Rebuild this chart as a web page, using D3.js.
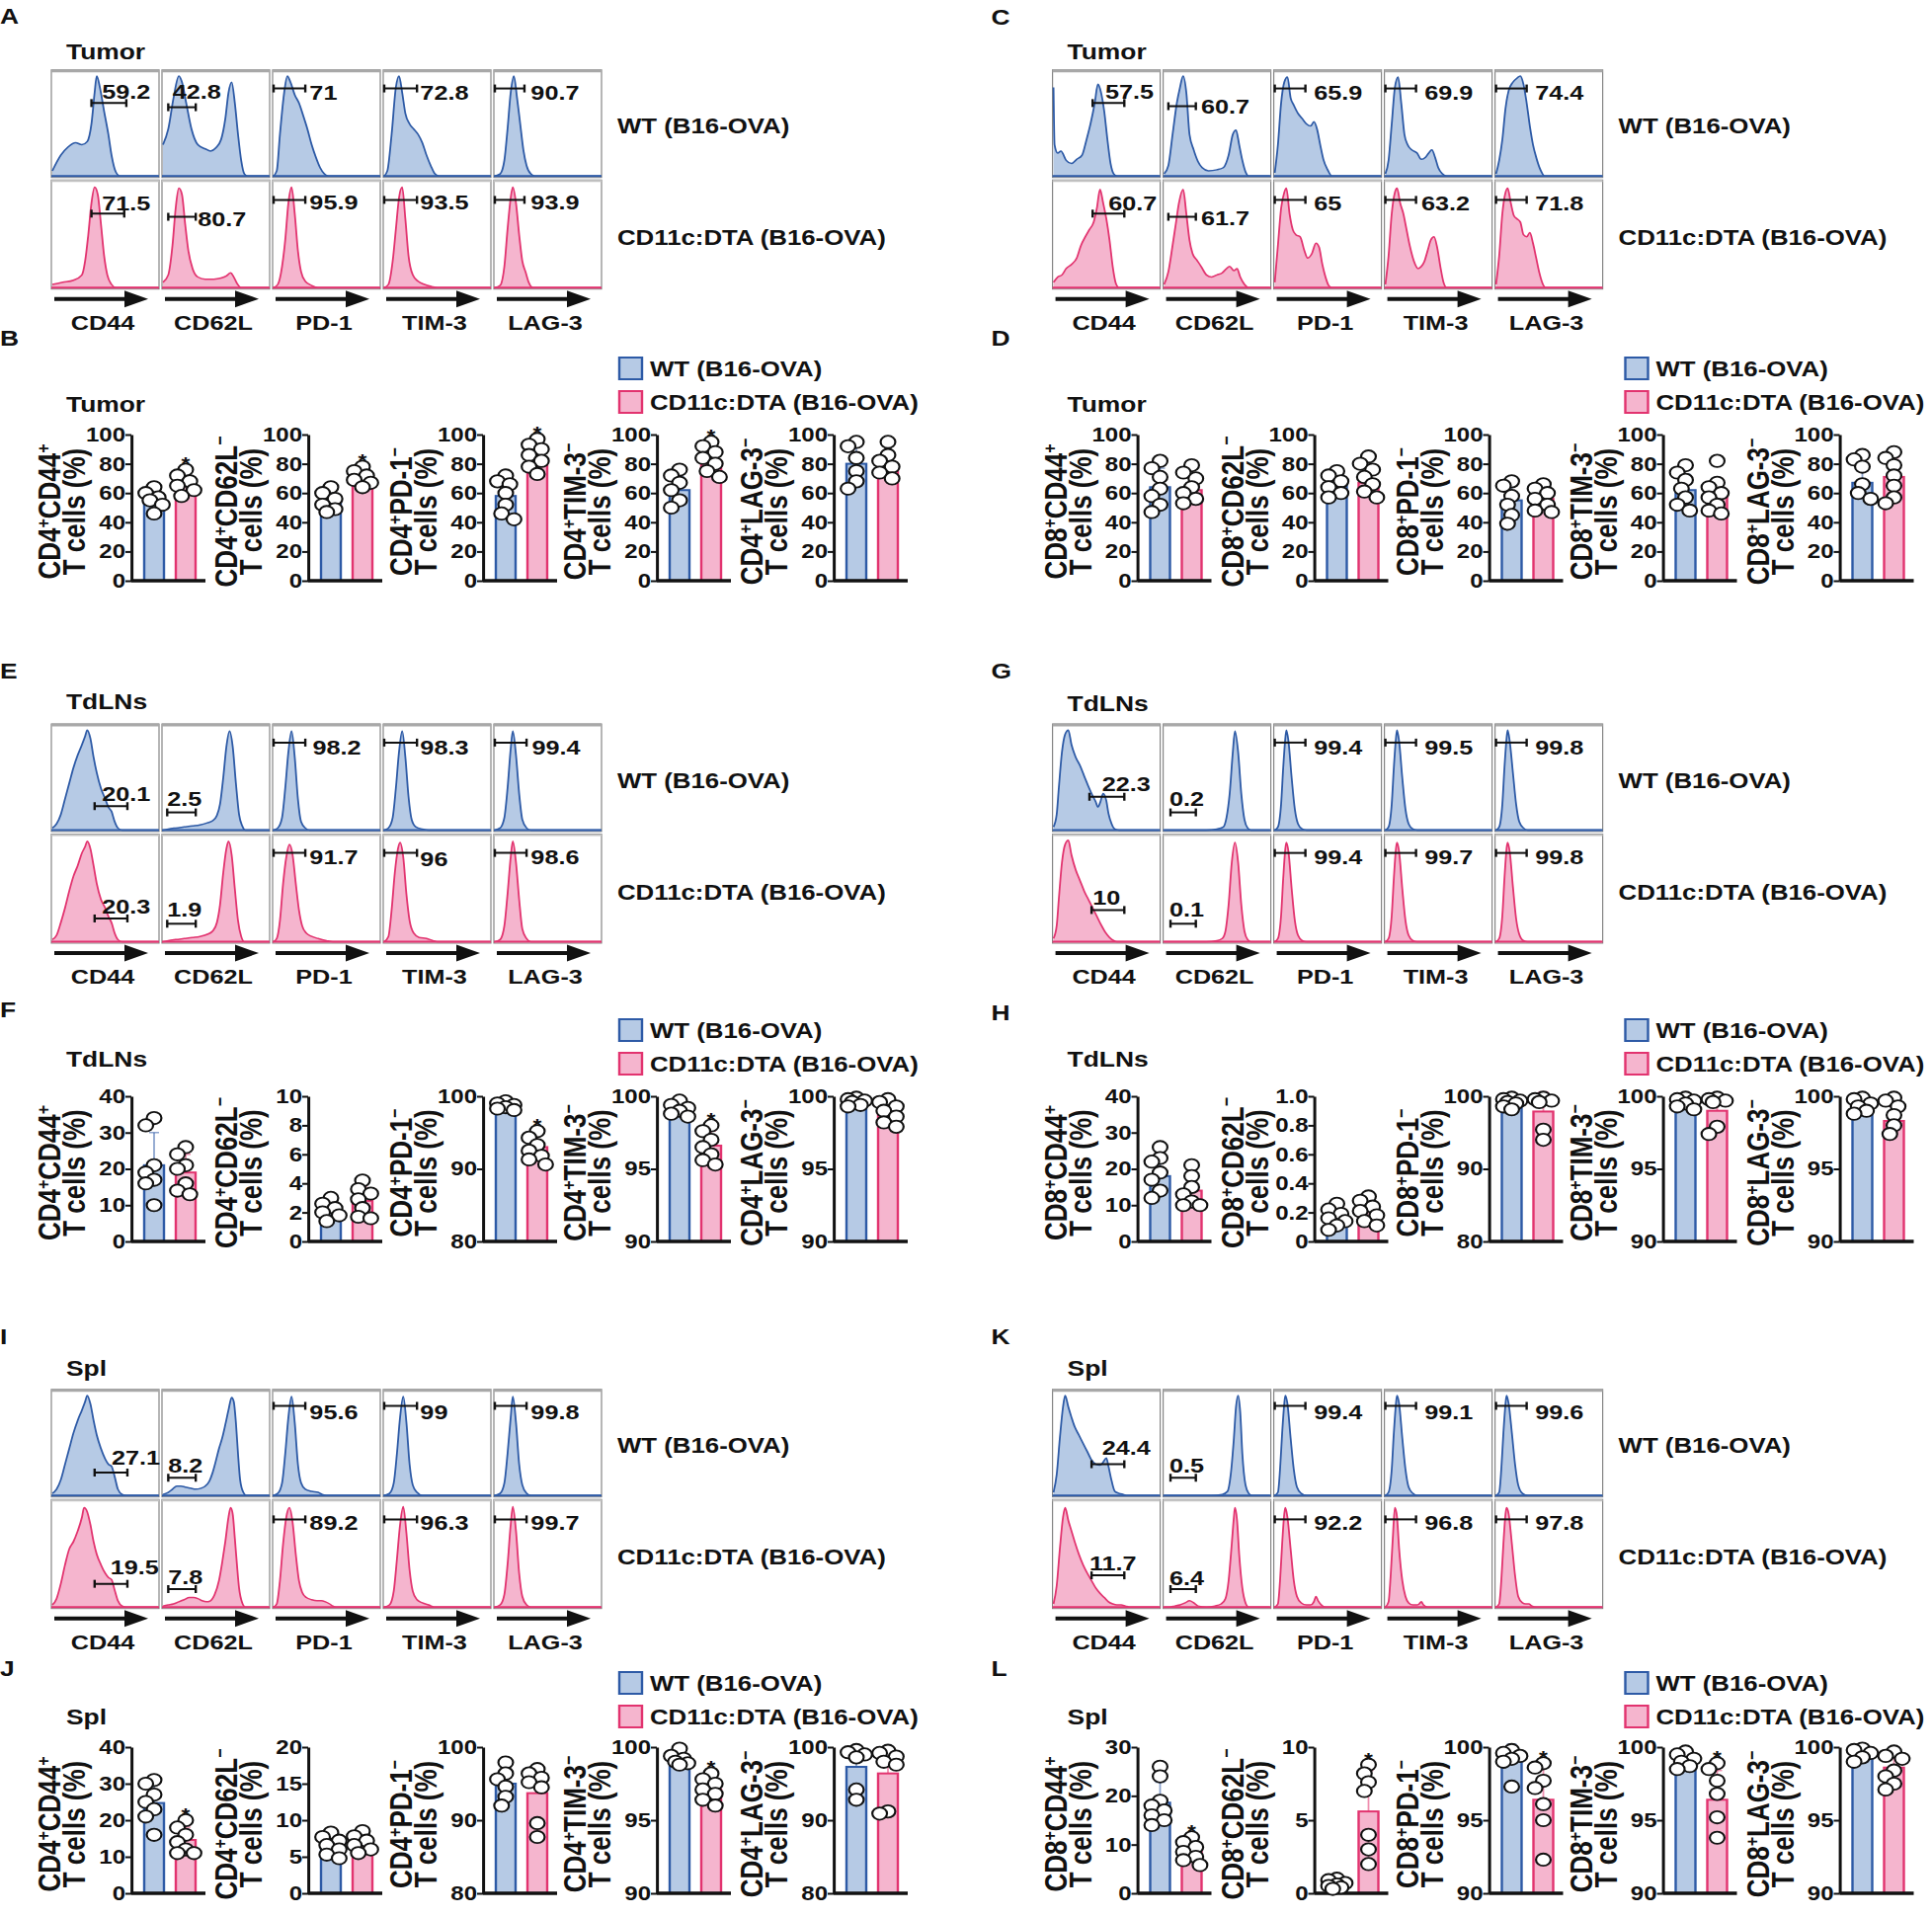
<!DOCTYPE html>
<html>
<head>
<meta charset="utf-8">
<script src="https://cdn.jsdelivr.net/npm/d3@7"></script>
<style>
  body { margin: 0; background: #fff; }
  text { font-family: "Liberation Sans", Arial, Helvetica, sans-serif; font-weight: bold; fill: #111; }
</style>
</head>
<body>
<div id="wrapper"></div>
<script>
// ---- categories ----
const markers = ["CD44", "CD62L", "PD-1", "TIM-3", "LAG-3"];
const groupNames = ["WT (B16-OVA)", "CD11c:DTA (B16-OVA)"];
const titleSigns = ["+", "\u2212", "\u2212", "\u2212", "\u2212"];

// ---- histogram curves: [fluorescence %, count % of max] ----
const histA_wt = [
  [[0,5],[8,20],[15,28],[22,32],[28,30],[33,33],[37,50],[40,80],[42,96],[45,85],[49,62],[53,40],[56,20],[60,4],[64,0],[100,0]],
  [[0,30],[5,45],[10,75],[15,96],[18,90],[22,70],[27,45],[33,30],[40,26],[45,24],[50,27],[55,35],[59,55],[62,80],[65,90],[68,70],[71,40],[74,15],[77,2],[80,0],[100,0]],
  [[0,0],[3,5],[6,40],[10,80],[13,96],[16,90],[20,78],[24,70],[28,58],[32,45],[36,30],[40,18],[44,8],[48,2],[52,0],[100,0]],
  [[0,0],[3,5],[7,40],[11,85],[14,96],[17,80],[20,60],[24,50],[28,45],[32,40],[36,32],[40,20],[44,10],[48,2],[52,0],[100,0]],
  [[0,0],[5,2],[9,15],[12,45],[15,80],[18,96],[21,75],[24,50],[27,25],[30,10],[34,2],[38,0],[100,0]]
];
const histA_dta = [
  [[0,3],[10,5],[20,7],[28,12],[31,25],[34,50],[37,80],[40,95],[43,88],[46,60],[49,30],[52,12],[56,3],[60,0],[100,0]],
  [[0,5],[5,12],[9,40],[12,75],[15,94],[18,88],[21,60],[24,35],[28,18],[33,10],[40,8],[48,8],[55,9],[60,11],[64,14],[67,10],[70,4],[74,0],[100,0]],
  [[0,0],[4,3],[8,20],[11,45],[14,80],[17,95],[20,70],[23,35],[26,15],[30,6],[36,2],[42,0],[100,0]],
  [[0,0],[4,3],[8,25],[11,55],[14,85],[17,95],[20,65],[23,30],[27,12],[32,6],[38,3],[45,1],[50,0],[100,0]],
  [[0,0],[5,2],[9,20],[12,55],[15,85],[17,95],[20,80],[23,50],[26,25],[29,15],[32,5],[36,0],[100,0]]
];
const histC_wt = [
  [[0,85],[1,30],[4,22],[7,24],[12,15],[17,12],[22,16],[27,20],[31,34],[35,50],[39,70],[42,88],[45,80],[48,62],[51,35],[54,12],[57,2],[60,0],[100,0]],
  [[0,2],[4,10],[8,40],[12,70],[15,85],[18,96],[21,80],[24,40],[28,25],[32,14],[36,8],[42,5],[50,6],[56,8],[61,20],[65,40],[68,44],[71,30],[74,15],[77,4],[80,0],[100,0]],
  [[0,3],[3,30],[6,70],[9,90],[12,95],[15,75],[18,68],[22,60],[26,55],[30,50],[34,48],[37,52],[40,45],[43,30],[46,16],[50,6],[54,0],[100,0]],
  [[0,2],[3,15],[6,50],[9,85],[12,95],[15,70],[18,40],[21,30],[25,25],[30,22],[34,16],[38,18],[41,22],[44,25],[47,18],[50,8],[54,2],[58,0],[100,0]],
  [[0,2],[3,15],[6,35],[9,65],[12,82],[16,90],[20,94],[23,96],[26,88],[29,70],[32,48],[35,30],[38,18],[42,6],[46,0],[100,0]]
];
const histC_dta = [
  [[0,5],[4,10],[8,12],[12,18],[17,22],[22,28],[26,40],[30,48],[34,55],[38,62],[41,75],[44,93],[47,80],[50,65],[53,45],[56,20],[59,4],[62,0],[100,0]],
  [[0,3],[4,15],[8,40],[11,60],[14,80],[18,93],[21,70],[24,45],[27,32],[31,26],[35,20],[40,12],[45,10],[50,12],[55,14],[59,18],[62,20],[66,16],[69,18],[72,10],[76,3],[80,0],[100,0]],
  [[0,5],[3,40],[6,75],[9,90],[11,94],[14,70],[17,55],[20,50],[24,48],[28,35],[31,28],[35,32],[39,42],[42,38],[45,22],[48,10],[51,2],[54,0],[100,0]],
  [[0,3],[3,30],[6,70],[9,90],[11,94],[14,80],[17,70],[20,55],[23,40],[27,25],[31,18],[34,20],[37,25],[40,35],[43,45],[46,48],[49,38],[52,20],[55,5],[58,0],[100,0]],
  [[0,3],[3,30],[6,70],[9,90],[11,94],[14,80],[17,68],[20,65],[23,62],[26,50],[29,48],[32,52],[35,42],[38,28],[41,14],[44,4],[47,0],[100,0]]
];
const histE_wt = [
  [[0,2],[4,6],[8,15],[12,30],[16,45],[20,60],[24,72],[28,82],[31,90],[33,96],[36,88],[39,70],[42,55],[46,40],[50,30],[53,22],[56,18],[59,8],[62,2],[66,0],[100,0]],
  [[0,0],[5,1],[12,2],[20,3],[28,4],[35,5],[42,7],[47,9],[51,14],[54,25],[57,50],[60,80],[63,95],[66,80],[69,45],[72,15],[75,4],[78,0],[100,0]],
  [[0,0],[4,2],[8,12],[11,40],[14,75],[17,95],[20,70],[23,30],[26,8],[30,2],[34,0],[100,0]],
  [[0,0],[4,2],[8,12],[11,40],[14,75],[17,95],[20,70],[23,32],[26,10],[30,3],[36,1],[42,0],[100,0]],
  [[0,0],[5,2],[9,12],[12,40],[15,78],[17,95],[20,72],[23,35],[26,10],[30,2],[34,0],[100,0]]
];
const histE_dta = [
  [[0,2],[4,6],[8,18],[12,32],[16,48],[20,62],[24,72],[28,84],[31,90],[33,95],[36,88],[39,72],[42,55],[46,40],[50,32],[53,24],[56,18],[59,8],[62,2],[66,0],[100,0]],
  [[0,0],[5,1],[12,2],[20,3],[28,4],[35,5],[42,7],[47,10],[51,18],[54,35],[57,65],[60,88],[62,95],[65,82],[68,50],[71,20],[74,5],[77,0],[100,0]],
  [[0,0],[3,3],[6,20],[9,55],[12,80],[15,92],[18,82],[21,55],[24,30],[27,15],[31,8],[36,5],[42,3],[50,1],[56,0],[100,0]],
  [[0,0],[4,5],[7,30],[10,65],[13,88],[15,94],[18,80],[21,45],[24,20],[28,8],[33,4],[40,3],[46,1],[50,0],[100,0]],
  [[0,0],[5,2],[9,15],[12,45],[15,80],[17,95],[20,75],[23,40],[26,12],[30,3],[34,0],[100,0]]
];
const histG_wt = [
  [[0,3],[3,15],[5,40],[8,75],[11,92],[14,96],[17,82],[21,70],[25,62],[29,52],[33,42],[37,33],[40,27],[42,22],[44,26],[47,35],[50,28],[52,16],[55,6],[58,1],[62,0],[100,0]],
  [[0,0],[40,0],[50,1],[56,3],[59,12],[62,35],[65,75],[67,95],[70,75],[73,35],[76,10],[79,2],[82,0],[100,0]],
  [[0,0],[3,3],[6,25],[8,60],[10,88],[11,96],[13,85],[16,50],[19,20],[22,6],[26,1],[30,0],[100,0]],
  [[0,0],[3,3],[6,25],[8,60],[10,88],[11,96],[13,85],[16,50],[19,20],[22,6],[26,1],[30,0],[100,0]],
  [[0,0],[3,3],[6,25],[8,60],[10,88],[11,96],[13,85],[16,55],[19,25],[22,8],[26,2],[30,0],[100,0]]
];
const histG_dta = [
  [[0,3],[3,15],[5,40],[8,75],[11,92],[14,96],[17,82],[21,68],[25,58],[29,48],[33,40],[37,32],[41,24],[45,16],[49,9],[53,4],[57,1],[60,0],[100,0]],
  [[0,0],[40,0],[50,1],[55,3],[58,10],[61,35],[64,75],[67,94],[70,75],[73,35],[76,10],[79,2],[82,0],[100,0]],
  [[0,0],[3,3],[6,25],[8,60],[10,88],[11,94],[13,85],[16,50],[19,20],[22,6],[26,1],[30,0],[100,0]],
  [[0,0],[3,3],[6,25],[8,60],[10,88],[11,94],[13,85],[16,50],[19,20],[22,6],[26,1],[30,0],[100,0]],
  [[0,0],[3,3],[6,25],[8,60],[10,88],[11,94],[13,85],[16,52],[19,22],[22,7],[26,1],[30,0],[100,0]]
];
const histI_wt = [
  [[0,2],[4,6],[8,15],[12,30],[16,45],[20,60],[24,72],[28,82],[31,90],[33,96],[36,88],[39,72],[42,58],[46,45],[50,35],[53,30],[56,28],[59,18],[62,6],[66,1],[70,0],[100,0]],
  [[0,1],[5,3],[9,6],[13,9],[17,9],[21,8],[26,7],[31,6],[36,7],[40,9],[44,14],[47,22],[50,33],[53,45],[56,55],[59,68],[62,82],[65,94],[67,90],[69,70],[71,40],[73,15],[76,3],[79,0],[100,0]],
  [[0,0],[4,2],[8,12],[11,40],[14,75],[17,95],[20,70],[23,30],[26,12],[30,6],[36,4],[42,3],[46,1],[50,0],[100,0]],
  [[0,0],[5,2],[9,12],[12,40],[15,75],[18,95],[21,70],[24,30],[27,10],[31,3],[36,0],[100,0]],
  [[0,0],[5,2],[9,12],[12,40],[15,75],[17,95],[20,70],[23,30],[26,10],[30,2],[34,0],[100,0]]
];
const histI_dta = [
  [[0,2],[4,8],[8,22],[12,40],[16,55],[20,62],[24,72],[28,85],[30,94],[33,90],[36,78],[39,62],[42,50],[46,40],[50,32],[53,28],[56,26],[59,16],[62,6],[66,1],[70,0],[100,0]],
  [[0,1],[5,2],[10,3],[15,5],[20,7],[25,9],[29,9],[33,8],[37,6],[41,5],[45,6],[49,12],[53,25],[56,42],[59,62],[62,85],[64,94],[66,88],[68,65],[70,40],[72,18],[75,4],[78,0],[100,0]],
  [[0,0],[3,3],[6,25],[9,60],[12,85],[15,94],[18,80],[21,50],[24,25],[27,14],[31,9],[36,7],[41,6],[45,6],[49,5],[53,3],[56,1],[59,0],[100,0]],
  [[0,0],[5,2],[9,15],[12,45],[15,78],[18,95],[21,70],[24,35],[27,15],[31,7],[36,4],[42,2],[47,0],[100,0]],
  [[0,0],[5,2],[9,12],[12,40],[15,78],[17,95],[20,72],[23,32],[26,10],[30,2],[34,0],[100,0]]
];
const histK_wt = [
  [[0,3],[3,20],[6,55],[9,85],[11,96],[14,85],[17,75],[20,66],[24,58],[28,50],[32,42],[36,34],[40,30],[44,29],[47,32],[50,36],[52,28],[55,14],[58,4],[62,2],[66,1],[70,0],[100,0]],
  [[0,0],[45,0],[55,1],[60,4],[63,20],[66,55],[68,85],[70,96],[72,80],[74,40],[77,10],[80,2],[83,0],[100,0]],
  [[0,0],[3,3],[5,25],[7,60],[9,88],[10,96],[12,88],[15,55],[18,25],[21,8],[25,2],[30,0],[100,0]],
  [[0,0],[3,3],[6,25],[8,60],[10,88],[11,96],[13,88],[16,55],[19,25],[22,8],[26,2],[30,0],[100,0]],
  [[0,0],[3,3],[5,25],[7,60],[9,88],[10,96],[12,88],[15,60],[18,30],[21,10],[25,2],[30,0],[100,0]]
];
const histK_dta = [
  [[0,3],[3,20],[6,55],[9,85],[11,94],[14,82],[17,72],[20,62],[24,50],[28,40],[32,32],[36,25],[40,18],[44,13],[48,9],[52,5],[56,3],[60,2],[64,2],[68,1],[72,0],[100,0]],
  [[0,0],[5,0],[10,1],[15,2],[20,4],[24,6],[28,4],[32,1],[40,0],[48,1],[54,3],[58,8],[61,25],[64,60],[66,85],[67,94],[69,82],[71,50],[74,18],[77,4],[80,0],[100,0]],
  [[0,0],[3,3],[5,25],[7,60],[9,88],[10,94],[12,85],[15,55],[18,25],[21,10],[25,4],[30,2],[34,2],[37,5],[39,10],[41,6],[44,2],[48,0],[100,0]],
  [[0,0],[3,5],[5,30],[7,65],[9,94],[11,85],[13,55],[16,25],[19,10],[22,4],[26,2],[30,2],[32,3],[34,5],[36,2],[40,0],[100,0]],
  [[0,0],[3,3],[5,25],[7,60],[9,88],[10,94],[12,88],[15,60],[18,30],[21,10],[25,4],[28,3],[31,3],[34,1],[38,0],[100,0]]
];

// ---- gates: [from %, to %, level %, value, label x %, label y %] ----
const gateA_wt  = [[37,70,70,"59.2",47,81],[5,31,66,"42.8",9,81],[0,30,84,"71",34,80],[0,31,84,"72.8",34,80],[0,28,84,"90.7",34,80]];
const gateA_dta = [[37,68,70,"71.5",47,80],[5,31,67,"80.7",33,65],[0,30,83,"95.9",34,81],[0,31,83,"93.5",34,81],[0,28,83,"93.9",34,81]];
const gateC_wt  = [[37,67,70,"57.5",49,81],[4,30,67,"60.7",35,67],[0,29,84,"65.9",37,80],[0,29,84,"69.9",37,80],[0,29,84,"74.4",37,80]];
const gateC_dta = [[37,67,70,"60.7",52,80],[4,30,67,"61.7",35,66],[0,29,83,"65",37,80],[0,29,83,"63.2",34,80],[0,29,83,"71.8",37,80]];
const gateE_wt  = [[40,71,23,"20.1",47,35],[4,31,17,"2.5",4,30],[0,30,84,"98.2",37,80],[0,31,84,"98.3",34,80],[0,30,84,"99.4",35,80]];
const gateE_dta = [[40,71,22,"20.3",47,34],[4,31,17,"1.9",4,31],[0,30,84,"91.7",34,80],[0,31,84,"96",34,79],[0,30,84,"98.6",34,80]];
const gateG_wt  = [[34,67,32,"22.3",46,45],[6,30,17,"0.2",5,30],[0,29,84,"99.4",37,80],[0,29,84,"99.5",37,80],[0,29,84,"99.8",37,80]];
const gateG_dta = [[36,67,30,"10",37,42],[6,30,17,"0.1",5,31],[0,29,84,"99.4",37,80],[0,29,84,"99.7",37,80],[0,29,84,"99.8",37,80]];
const gateI_wt  = [[40,71,22,"27.1",56,37],[5,31,17,"8.2",5,29],[0,30,86,"95.6",34,80],[0,31,86,"99",34,80],[0,30,86,"99.8",34,80]];
const gateI_dta = [[40,71,22,"19.5",55,38],[5,31,17,"7.8",5,29],[0,30,83,"89.2",34,80],[0,31,83,"96.3",34,80],[0,30,83,"99.7",34,80]];
const gateK_wt  = [[36,67,30,"24.4",46,46],[6,30,17,"0.5",5,29],[0,29,86,"99.4",37,80],[0,29,86,"99.1",37,80],[0,29,86,"99.6",37,80]];
const gateK_dta = [[36,67,30,"11.7",34,42],[6,30,17,"6.4",5,28],[0,29,83,"92.2",37,80],[0,29,83,"96.8",37,80],[0,29,83,"97.8",37,80]];

// ---- bar charts: individual mice, means, SD, axis ranges and tick labels ----
const barB_wt   = [[64,60,57,55,52,46],[64,60,56,52,49,47],[72,68,66,60,52,46,42],[76,72,67,62,55,50],[95,92,84,75,68,63]];
const barB_dta  = [[76,72,68,65,62,58],[78,75,72,69,67,64],[97,93,90,86,82,78,73],[95,92,88,84,80,75,71],[95,86,82,78,74,70]];
const barB_mean = [[56,66],[54,69],[58,81],[62,82],[80,79]];
const barB_sd   = [[6,6],[6,5],[11,9],[9,8],[13,8]];
const barB_star = [1,1,1,1,0];
const barB_domain = [[0,100],[0,100],[0,100],[0,100],[0,100]];
const barB_ticks  = [["0","20","40","60","80","100"],["0","20","40","60","80","100"],["0","20","40","60","80","100"],["0","20","40","60","80","100"],["0","20","40","60","80","100"]];

const barD_wt   = [[82,77,71,63,58,52,47],[75,72,68,64,60,57],[68,65,58,52,45,39],[79,74,69,63,57,52,48],[86,83,78,66,60,56]];
const barD_dta  = [[79,74,70,64,60,56,53],[85,80,76,71,66,61,57],[66,63,60,56,52,48,47],[82,67,64,60,57,52,48,46],[88,84,79,72,65,57,53]];
const barD_mean = [[64,62],[66,67],[55,56],[62,59],[67,71]];
const barD_sd   = [[13,9],[7,10],[11,7],[11,11],[12,13]];
const barD_star = [0,0,0,0,0];
const barD_domain = barB_domain;
const barD_ticks  = barB_ticks;

const barF_wt   = [[34,32,21,19,17,16,10],[3.0,2.6,2.3,2.0,1.8,1.4],[99.3,99.0,98.8,98.5,98.3,98.1],[99.7,99.4,99.2,99.0,98.8,98.6],[99.9,99.8,99.7,99.6,99.4,99.3]];
const barF_dta  = [[26,24,21,20,16,14,13],[4.2,3.6,3.3,2.9,2.3,1.7,1.6],[95.2,94.3,93.3,92.5,91.8,91.3,90.6],[98.0,97.6,97.0,96.5,96.0,95.6,95.3],[99.8,99.6,99.3,99.0,98.6,98.2,97.9]];
const barF_mean = [[21,19],[2.2,2.8],[98.6,93],[99.1,96.6],[99.6,99.0]];
const barF_sd   = [[9,5],[0.6,1.0],[0.5,1.6],[0.4,1.0],[0.2,0.7]];
const barF_star = [0,0,1,1,0];
const barF_domain = [[0,40],[0,10],[80,100],[90,100],[90,100]];
const barF_ticks  = [["0","10","20","30","40"],["0","2","4","6","8","10"],["80","90","100"],["90","95","100"],["90","95","100"]];

const barH_wt   = [[26,23,22,19,17,14,12],[0.26,0.22,0.19,0.16,0.14,0.11,0.08],[99.8,99.6,99.4,99.2,99.0,98.6,98.2],[99.9,99.8,99.7,99.5,99.3,99.1],[99.9,99.8,99.5,99.3,99.0,98.8]];
const barH_dta  = [[21,18,15,13,11,10,10],[0.31,0.28,0.24,0.21,0.18,0.14,0.11],[99.8,99.6,99.4,99.2,95.4,94.0],[99.9,99.8,99.7,99.6,97.9,97.4],[99.9,99.7,99.3,98.7,98.0,97.4]];
const barH_mean = [[18,14],[0.17,0.21],[99.1,97.9],[99.5,99.0],[99.2,98.3]];
const barH_sd   = [[5,4],[0.06,0.07],[0.5,2.7],[0.3,1.1],[0.4,1.0]];
const barH_star = [0,0,0,0,0];
const barH_domain = [[0,40],[0,1],[80,100],[90,100],[90,100]];
const barH_ticks  = [["0","10","20","30","40"],["0","0.2","0.4","0.6","0.8","1.0"],["80","90","100"],["90","95","100"],["90","95","100"]];

const barJ_wt   = [[31,30,27,25,23,21,16],[8.3,7.7,7.2,6.6,6.0,5.3,4.8],[97.9,96.4,95.6,94.6,93.2,92.0],[99.9,99.4,99.2,99.0,98.9,98.8],[99.6,99.3,99.0,98.6,94.2,92.8]];
const barJ_dta  = [[20,18,16,14,12,11,11],[8.5,7.8,7.2,6.6,6.0,5.5],[97.0,96.4,95.8,95.2,94.5,89.6,87.7],[98.2,97.8,97.5,97.1,96.8,96.4,96.0],[99.5,99.2,98.7,98.0,97.6,91.2,90.9]];
const barJ_mean = [[24.7,14.6],[6.6,6.9],[95,93.7],[99.2,97.1],[97.3,96.4]];
const barJ_sd   = [[5,3.5],[1.2,1.1],[2.2,3.6],[0.4,0.8],[2.9,3.6]];
const barJ_star = [1,0,0,1,0];
const barJ_domain = [[0,40],[0,20],[80,100],[90,100],[80,100]];
const barJ_ticks  = [["0","10","20","30","40"],["0","5","10","15","20"],["80","90","100"],["90","95","100"],["80","90","100"]];

const barL_wt   = [[26,24,19,18,17,16,15,14],[1.0,0.9,0.7,0.6,0.5,0.4,0.3],[99.8,99.6,99.4,99.2,99.0,97.3],[99.7,99.5,99.2,99.0,98.7,98.5],[99.9,99.8,99.6,99.3,99.0]];
const barL_dta  = [[11.5,10.5,9.5,8.5,7.5,6.8,5.8],[8.8,8.2,7.6,7.0,4.0,3.0,2.0],[98.9,98.6,97.7,97.2,96.1,95.0,92.3],[98.9,98.5,97.7,96.8,95.2,93.8],[99.7,99.4,99.2,98.4,98.0,97.5,97.1]];
const barL_mean = [[18.6,8.6],[0.6,5.6],[99.3,96.4],[99.2,96.4],[99.6,98.6]];
const barL_sd   = [[4.2,2.0],[0.25,2.8],[0.9,2.2],[0.5,2.0],[0.3,1.0]];
const barL_star = [1,1,1,1,0];
const barL_domain = [[0,30],[0,10],[90,100],[90,100],[90,100]];
const barL_ticks  = [["0","10","20","30"],["0","5","10"],["90","95","100"],["90","95","100"],["90","95","100"]];

// ---- drawing ----
// the source figure is stretched ~1.2x horizontally, so draw in narrower units and stretch
const SX = 1.2;
const W = 1956, H = 1940;
const X = v => v / SX;

const stroke = ["#2d5aa6", "#e2336f"];
const fill = ["#b6cae5", "#f5b5ce"];

const svg = d3.select("#wrapper")
  .append("svg")
  .attr("width", W)
  .attr("height", H)
  .attr("viewBox", `0 0 ${W / SX} ${H}`)
  .attr("preserveAspectRatio", "none");

svg.append("rect").attr("width", W / SX).attr("height", H).attr("fill", "#fff");

const sideX = [0, 1013.6];

const histPanels = [
  { letter: "A", tissue: "Tumor", wt: histA_wt, dta: histA_dta, gwt: gateA_wt, gdta: gateA_dta, side: 0, top: 70.7, letterY: 24, tissueY: 60 },
  { letter: "C", tissue: "Tumor", wt: histC_wt, dta: histC_dta, gwt: gateC_wt, gdta: gateC_dta, side: 1, top: 70.7, letterY: 25, tissueY: 60 },
  { letter: "E", tissue: "TdLNs", wt: histE_wt, dta: histE_dta, gwt: gateE_wt, gdta: gateE_dta, side: 0, top: 733, letterY: 687, tissueY: 718 },
  { letter: "G", tissue: "TdLNs", wt: histG_wt, dta: histG_dta, gwt: gateG_wt, gdta: gateG_dta, side: 1, top: 733, letterY: 687, tissueY: 720 },
  { letter: "I", tissue: "Spl", wt: histI_wt, dta: histI_dta, gwt: gateI_wt, gdta: gateI_dta, side: 0, top: 1406.7, letterY: 1361, tissueY: 1393 },
  { letter: "K", tissue: "Spl", wt: histK_wt, dta: histK_dta, gwt: gateK_wt, gdta: gateK_dta, side: 1, top: 1406.7, letterY: 1361, tissueY: 1393 }
];

function drawHistPanel(p) {
  const ox = sideX[p.side];
  svg.append("text").attr("x", X(ox + (p.side ? -10 : 0))).attr("y", p.letterY)
    .attr("font-size", 22).text(p.letter);
  svg.append("text").attr("x", X(ox + 67)).attr("y", p.tissueY)
    .attr("font-size", 22).text(p.tissue);

  const rowTop = [0, 111.5], rowH = [109, 110.5];
  const boxW = 109;

  markers.forEach((m, i) => {
    const bx = ox + 52 + i * 112;
    const hx = d3.scaleLinear().domain([0, 100]).range([X(bx + 1), X(bx + boxW - 1)]);

    [0, 1].forEach(r => {
      const series = r === 0 ? p.wt[i] : p.dta[i];
      const gate = r === 0 ? p.gwt[i] : p.gdta[i];
      const cy = p.top + rowTop[r], ch = rowH[r];
      const hy = d3.scaleLinear().domain([0, 100]).range([cy + ch - 1.5, cy + 2]);

      svg.append("rect")
        .attr("x", X(bx)).attr("y", cy)
        .attr("width", X(boxW)).attr("height", ch)
        .attr("fill", "#fff").attr("stroke", "#858585").attr("stroke-width", 1);
      svg.append("line")
        .attr("x1", X(bx)).attr("x2", X(bx + boxW))
        .attr("y1", cy + 1).attr("y2", cy + 1)
        .attr("stroke", r === 0 ? "#a8a8a8" : "#c4c4c4").attr("stroke-width", r === 0 ? 3 : 2);

      const area = d3.area()
        .x(d => hx(d[0])).y0(hy(0)).y1(d => hy(d[1]))
        .curve(d3.curveMonotoneX);
      const line = d3.line()
        .x(d => hx(d[0])).y(d => hy(d[1]))
        .curve(d3.curveMonotoneX);

      svg.append("path").attr("d", area(series)).attr("fill", fill[r]);
      svg.append("path").attr("d", line(series))
        .attr("fill", "none").attr("stroke", stroke[r]).attr("stroke-width", 1.5);
      svg.append("line")
        .attr("x1", X(bx)).attr("x2", X(bx + boxW))
        .attr("y1", hy(0)).attr("y2", hy(0))
        .attr("stroke", stroke[r]).attr("stroke-width", 2);

      // gate marker
      const gy = hy(gate[2]);
      const gx1 = hx(gate[0]), gx2 = hx(gate[1]);
      const gg = svg.append("g").attr("stroke", "#111").attr("stroke-width", 2);
      gg.append("line").attr("x1", gx1).attr("x2", gx2).attr("y1", gy).attr("y2", gy);
      gg.append("line").attr("x1", gx1).attr("x2", gx1).attr("y1", gy - 4).attr("y2", gy + 4);
      gg.append("line").attr("x1", gx2).attr("x2", gx2).attr("y1", gy - 4).attr("y2", gy + 4);
      svg.append("text")
        .attr("x", hx(gate[4])).attr("y", hy(gate[5])).attr("dy", "0.36em")
        .attr("font-size", 21).text(gate[3]);
    });

    // axis arrow and marker name
    const ay = p.top + 232;
    svg.append("line")
      .attr("x1", X(bx + 3)).attr("x2", X(bx + 78))
      .attr("y1", ay).attr("y2", ay)
      .attr("stroke", "#111").attr("stroke-width", 4);
    svg.append("path")
      .attr("d", `M${X(bx + 74)},${ay - 8.5}L${X(bx + 98)},${ay}L${X(bx + 74)},${ay + 8.5}Z`)
      .attr("fill", "#111");
    svg.append("text")
      .attr("x", X(bx + 52)).attr("y", p.top + 263)
      .attr("text-anchor", "middle").attr("font-size", 21).text(m);
  });

  groupNames.forEach((name, r) => {
    svg.append("text")
      .attr("x", X(ox + 625)).attr("y", p.top + (r === 0 ? 57 : 170)).attr("dy", "0.36em")
      .attr("font-size", 21.5).text(name);
  });
}

histPanels.forEach(drawHistPanel);

const barAxesLeft = [133, 312, 489, 665, 844];
const barSideX = [0, 1018.5];

const barPanels = [
  { letter: "B", tissue: "Tumor", cell: "CD4", wt: barB_wt, dta: barB_dta, mean: barB_mean, sd: barB_sd, star: barB_star, domain: barB_domain, ticks: barB_ticks, side: 0, top: 440, bottom: 588, letterY: 350, tissueY: 417, legendY: 362 },
  { letter: "D", tissue: "Tumor", cell: "CD8", wt: barD_wt, dta: barD_dta, mean: barD_mean, sd: barD_sd, star: barD_star, domain: barD_domain, ticks: barD_ticks, side: 1, top: 440, bottom: 588, letterY: 350, tissueY: 417, legendY: 362 },
  { letter: "F", tissue: "TdLNs", cell: "CD4", wt: barF_wt, dta: barF_dta, mean: barF_mean, sd: barF_sd, star: barF_star, domain: barF_domain, ticks: barF_ticks, side: 0, top: 1110, bottom: 1257, letterY: 1030, tissueY: 1080, legendY: 1032 },
  { letter: "H", tissue: "TdLNs", cell: "CD8", wt: barH_wt, dta: barH_dta, mean: barH_mean, sd: barH_sd, star: barH_star, domain: barH_domain, ticks: barH_ticks, side: 1, top: 1110, bottom: 1257, letterY: 1033, tissueY: 1080, legendY: 1032 },
  { letter: "J", tissue: "Spl", cell: "CD4", wt: barJ_wt, dta: barJ_dta, mean: barJ_mean, sd: barJ_sd, star: barJ_star, domain: barJ_domain, ticks: barJ_ticks, side: 0, top: 1769, bottom: 1917, letterY: 1697, tissueY: 1746, legendY: 1693 },
  { letter: "L", tissue: "Spl", cell: "CD8", wt: barL_wt, dta: barL_dta, mean: barL_mean, sd: barL_sd, star: barL_star, domain: barL_domain, ticks: barL_ticks, side: 1, top: 1769, bottom: 1917, letterY: 1697, tissueY: 1746, legendY: 1693 }
];

const R = 6.2;

// simple dodge so overlapping mice spread sideways, but stay over the bar
function dodge(values, cx, y) {
  const placed = [];
  const steps = [0, -3.5, 3.5, -7, 7];
  values.slice().sort((a, b) => b - a).forEach(v => {
    const py = y(v);
    let best = null, bestD = -1;
    for (const s of steps) {
      const px = cx + s;
      const dmin = placed.length
        ? d3.min(placed, q => Math.hypot(q.x - px, q.y - py))
        : Infinity;
      if (dmin >= 2 * R - 3) { best = px; break; }
      if (dmin > bestD) { bestD = dmin; best = px; }
    }
    placed.push({ x: best, y: py });
  });
  return placed;
}

function drawBarPanel(p) {
  const ox = barSideX[p.side];
  const hx = sideX[p.side];
  svg.append("text").attr("x", X(hx + (p.side ? -10 : 0))).attr("y", p.letterY)
    .attr("font-size", 22).text(p.letter);
  svg.append("text").attr("x", X(hx + 67)).attr("y", p.tissueY)
    .attr("font-size", 22).text(p.tissue);

  // legend
  groupNames.forEach((name, r) => {
    const ly = p.legendY + r * 34;
    svg.append("rect")
      .attr("x", X(ox + 627)).attr("y", ly)
      .attr("width", X(23)).attr("height", 22)
      .attr("fill", fill[r]).attr("stroke", stroke[r]).attr("stroke-width", 2);
    svg.append("text")
      .attr("x", X(ox + 658)).attr("y", ly + 11).attr("dy", "0.36em")
      .attr("font-size", 21.5).text(name);
  });

  markers.forEach((m, i) => {
    const ax = ox + barAxesLeft[i];
    const y = d3.scaleLinear().domain(p.domain[i]).range([p.bottom, p.top]);
    const x = d3.scalePoint().domain(["WT", "DTA"]).range([X(ax + 23), X(ax + 55)]);
    const cols = ["WT", "DTA"];
    const base = p.domain[i][0];

    cols.forEach((c, r) => {
      const cx = x(c);
      const mean = p.mean[i][r], sd = p.sd[i][r];
      svg.append("rect")
        .attr("x", cx - X(10)).attr("width", X(20))
        .attr("y", y(mean)).attr("height", y(base) - y(mean))
        .attr("fill", fill[r]).attr("stroke", stroke[r]).attr("stroke-width", 2);
      const eg = svg.append("g").attr("stroke", stroke[r]).attr("stroke-opacity", 0.55).attr("stroke-width", 1.5);
      eg.append("line").attr("x1", cx).attr("x2", cx).attr("y1", y(mean)).attr("y2", y(mean + sd));
      eg.append("line").attr("x1", cx - X(5)).attr("x2", cx + X(5)).attr("y1", y(mean + sd)).attr("y2", y(mean + sd));
    });

    // x axis
    svg.append("line")
      .attr("x1", X(ax)).attr("x2", X(ax + 75))
      .attr("y1", p.bottom).attr("y2", p.bottom)
      .attr("stroke", "#111").attr("stroke-width", 3.5);

    // y axis
    const ticks = p.ticks[i];
    const yAxis = d3.axisLeft(y)
      .tickValues(ticks.map(Number))
      .tickFormat((d, j) => ticks[j])
      .tickSize(5).tickSizeOuter(0).tickPadding(0);
    const ag = svg.append("g").attr("transform", `translate(${X(ax)},0)`).call(yAxis);
    ag.attr("font-size", 20).attr("font-family", null);
    ag.select(".domain").attr("stroke", "#111").attr("stroke-width", 2.5);
    ag.selectAll(".tick line").attr("stroke", "#111").attr("stroke-width", 2);
    ag.selectAll(".tick text").attr("fill", "#111");

    // axis title
    const midY = (p.top + p.bottom) / 2 + 4;
    const t1 = svg.append("text")
      .attr("transform", `translate(${X(ax - 72)},${midY}) rotate(-90)`)
      .attr("text-anchor", "middle").attr("font-size", 26);
    t1.append("tspan").text(p.cell);
    t1.append("tspan").attr("dy", -9).attr("font-size", 16).text("+");
    t1.append("tspan").attr("dy", 9).text(m);
    t1.append("tspan").attr("dy", -9).attr("font-size", 16).text(titleSigns[i]);
    svg.append("text")
      .attr("transform", `translate(${X(ax - 47)},${midY}) rotate(-90)`)
      .attr("text-anchor", "middle").attr("font-size", 26).text("T cells (%)");

    // individual mice
    cols.forEach((c, r) => {
      const vals = r === 0 ? p.wt[i] : p.dta[i];
      const pts = dodge(vals, x(c), y);
      svg.append("g").selectAll("circle").data(pts).join("circle")
        .attr("cx", d => d.x).attr("cy", d => d.y).attr("r", R)
        .attr("fill", "#fff").attr("stroke", "#111").attr("stroke-width", 1.8);
      if (r === 1 && p.star[i]) {
        const topVal = Math.max(d3.max(vals), p.mean[i][r] + p.sd[i][r]);
        svg.append("text")
          .attr("x", x(c)).attr("y", y(topVal) - R + 7)
          .attr("text-anchor", "middle").attr("font-size", 19).text("*");
      }
    });
  });
}

barPanels.forEach(drawBarPanel);
</script>
</body>
</html>
